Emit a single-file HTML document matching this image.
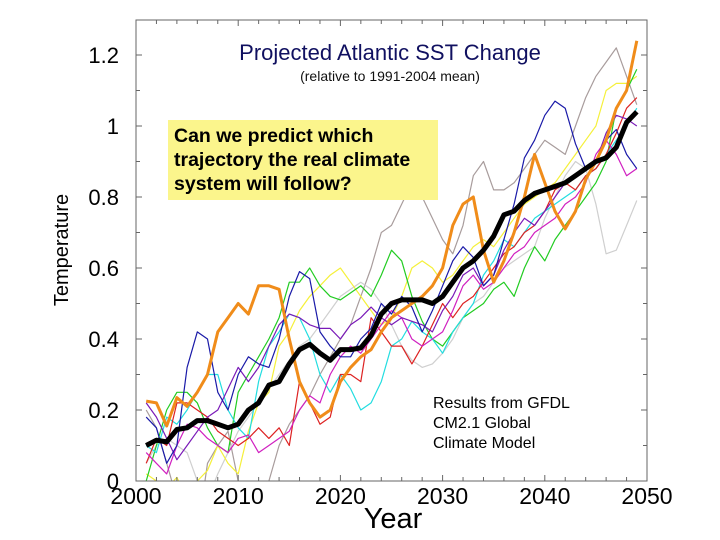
<!DOCTYPE html>
<html><head><meta charset="utf-8"><style>
body{margin:0;background:#fff;}
svg{display:block;font-family:"Liberation Sans",Arial,sans-serif;}
</style></head><body>
<svg id="chart" width="720" height="540" viewBox="0 0 720 540">
<rect x="0" y="0" width="720" height="540" fill="#fff"/>
<g id="marks"></g>
<rect x="136" y="20" width="511" height="461" fill="none" stroke="#666" stroke-width="1"/>
<g id="axes"></g>
<text x="390" y="60" text-anchor="middle" font-size="22" fill="#101060">Projected Atlantic SST Change</text>
<text x="390" y="81" text-anchor="middle" font-size="14" fill="#111">(relative to 1991-2004 mean)</text>
<rect x="168" y="120" width="270" height="80" fill="#fbf58c"/>
<text font-size="19.5" font-weight="bold" fill="#000"><tspan x="174" y="142">Can we predict which</tspan><tspan x="174" y="166">trajectory the real climate</tspan><tspan x="174" y="190">system will follow?</tspan></text>
<text font-size="16" fill="#000"><tspan x="433" y="408">Results from GFDL</tspan><tspan x="433" y="428">CM2.1 Global</tspan><tspan x="433" y="448">Climate Model</tspan></text>
<text x="393" y="528" text-anchor="middle" font-size="29" fill="#000">Year</text>
<text transform="translate(68,250) rotate(-90)" text-anchor="middle" font-size="20" fill="#000">Temperature</text>
</svg>
<script>
const years=[];for(let y=2001;y<=2049;y++)years.push(y);
const xTicks=[2000,2010,2020,2030,2040,2050];
const yTicks=[0,0.2,0.4,0.6,0.8,1,1.2];
const yTickLabels=["0","0.2","0.4","0.6","0.8","1","1.2"];
const ensembleMean=[.10,.115,.11,.145,.15,.17,.17,.16,.15,.16,.20,.22,.27,.28,.33,.37,.385,.36,.34,.37,.37,.375,.41,.47,.50,.51,.51,.51,.50,.52,.56,.60,.62,.65,.69,.75,.76,.79,.81,.82,.83,.84,.86,.88,.90,.91,.94,1.01,1.04];
const orangeRun=[.225,.22,.155,.235,.21,.25,.30,.42,.46,.50,.47,.55,.55,.54,.40,.28,.22,.18,.20,.28,.32,.35,.37,.42,.46,.48,.50,.52,.55,.60,.72,.78,.80,.65,.56,.62,.70,.80,.92,.84,.76,.71,.76,.85,.90,.96,1.05,1.10,1.24];
const blueRun=[.18,.15,.05,.10,.32,.42,.40,.25,.20,.30,.35,.33,.32,.40,.52,.59,.57,.42,.38,.35,.35,.40,.43,.50,.47,.52,.49,.42,.48,.55,.62,.66,.63,.55,.58,.68,.78,.91,.96,1.03,1.07,1.05,.95,.88,.90,.96,.99,.92,.88];
const greenRun=[.00,.10,.20,.25,.25,.22,.15,.10,.08,.25,.30,.35,.40,.46,.56,.56,.60,.55,.52,.51,.53,.55,.52,.58,.65,.62,.52,.45,.40,.38,.42,.46,.48,.50,.54,.56,.52,.60,.66,.62,.68,.72,.76,.80,.84,.90,1.05,1.10,1.16];
const purpleRun=[.22,.18,.12,.06,.10,.14,.18,.20,.26,.32,.28,.32,.38,.44,.47,.46,.44,.43,.43,.40,.44,.46,.49,.46,.44,.46,.45,.44,.42,.48,.52,.58,.60,.55,.58,.65,.70,.74,.72,.76,.80,.84,.86,.88,.90,.98,1.03,1.02,1.00];
const cyanRun=[.10,.08,.18,.16,.20,.25,.30,.30,.20,.15,.12,.28,.38,.42,.47,.46,.40,.30,.25,.30,.26,.20,.22,.28,.38,.40,.45,.42,.40,.36,.42,.46,.50,.58,.62,.68,.66,.70,.74,.76,.78,.80,.82,.86,.88,.92,.96,1.00,1.05];
const redRun=[.05,.12,.10,.22,.22,.20,.18,.14,.12,.10,.12,.15,.12,.15,.10,.28,.22,.16,.18,.30,.30,.28,.46,.42,.38,.38,.33,.38,.44,.50,.46,.50,.52,.56,.60,.64,.66,.70,.72,.76,.82,.84,.82,.86,.88,.92,.98,1.05,1.08];
const magentaRun=[.08,.05,.02,.10,.16,.15,.12,.10,.08,.12,.13,.08,.10,.12,.14,.20,.24,.22,.30,.35,.38,.36,.40,.44,.48,.46,.40,.38,.40,.42,.48,.55,.58,.54,.56,.60,.64,.66,.70,.72,.74,.78,.80,.84,.92,.96,.92,.86,.88];
const yellowRun=[.02,.00,-.02,.01,-.05,.00,.03,.10,.05,.02,.14,.22,.25,.38,.42,.48,.52,.55,.58,.60,.56,.52,.48,.44,.46,.52,.60,.62,.60,.56,.58,.62,.66,.68,.66,.70,.74,.78,.80,.82,.84,.88,.92,.96,1.00,1.10,1.12,1.12,1.14];
const grayRun=[.20,.15,.05,-.05,-.10,-.15,.05,.10,.14,.00,-.10,-.06,.00,.10,.16,.20,.24,.30,.35,.40,.44,.52,.60,.70,.72,.78,.84,.80,.74,.68,.64,.72,.86,.90,.82,.82,.84,.88,.92,.96,.94,.92,1.00,1.08,1.14,1.18,1.22,1.14,1.06];
const lightGrayRun=[.05,.10,.12,.10,.08,.00,-.05,.02,.08,.14,.18,.22,.26,.30,.34,.38,.40,.44,.48,.52,.54,.56,.54,.50,.44,.38,.34,.32,.33,.36,.40,.46,.50,.52,.56,.60,.62,.64,.66,.74,.80,.86,.90,.88,.78,.64,.65,.72,.79];
const series=[
 {name:"gray-run",vals:grayRun,color:"#a89c9c",w:1.2},
 {name:"light-gray-run",vals:lightGrayRun,color:"#cfcfcf",w:1.2},
 {name:"yellow-run",vals:yellowRun,color:"#f5f03a",w:1.2},
 {name:"green-run",vals:greenRun,color:"#22cc22",w:1.2},
 {name:"cyan-run",vals:cyanRun,color:"#22dde0",w:1.2},
 {name:"red-run",vals:redRun,color:"#dd2222",w:1.2},
 {name:"magenta-run",vals:magentaRun,color:"#d020c0",w:1.2},
 {name:"purple-run",vals:purpleRun,color:"#7a1ab8",w:1.2},
 {name:"blue-run",vals:blueRun,color:"#1a1aa8",w:1.2},
 {name:"orange-run",vals:orangeRun,color:"#f08c1a",w:3},
 {name:"ensemble-mean",vals:ensembleMean,color:"#000",w:5}
];
const X0=136,X1=647,Y0=481,Y1=20;
const xs=v=>X0+(v-2000)/50*(X1-X0);
const ys=v=>481-v/1.2*(481-55);
const NS="http://www.w3.org/2000/svg";
const marks=document.getElementById('marks');
const clip=document.createElementNS(NS,'clipPath');clip.setAttribute('id','pc');
const cr=document.createElementNS(NS,'rect');cr.setAttribute('x',X0);cr.setAttribute('y',Y1);cr.setAttribute('width',X1-X0);cr.setAttribute('height',Y0-Y1);
clip.appendChild(cr);marks.appendChild(clip);
const g=document.createElementNS(NS,'g');g.setAttribute('clip-path','url(#pc)');marks.appendChild(g);
series.forEach(s=>{
 const p=document.createElementNS(NS,'polyline');
 p.setAttribute('points',s.vals.map((v,i)=>xs(years[i]).toFixed(1)+','+ys(v).toFixed(1)).join(' '));
 p.setAttribute('fill','none');p.setAttribute('stroke',s.color);p.setAttribute('stroke-width',s.w);p.setAttribute('stroke-linejoin','round');
 
 
 g.appendChild(p);
});
const ax=document.getElementById('axes');
function ln(x1,y1,x2,y2){const l=document.createElementNS(NS,'line');l.setAttribute('x1',x1);l.setAttribute('y1',y1);l.setAttribute('x2',x2);l.setAttribute('y2',y2);l.setAttribute('stroke','#666');l.setAttribute('stroke-width','1');ax.appendChild(l);return l;}
for(let v=0;v<=1.2001;v+=0.1){const y=ys(v);const L=Math.abs(v*5-Math.round(v*5))<1e-6?6:4;ln(X0,y,X0+L,y);ln(X1,y,X1-L,y);}
for(let yr=2000;yr<=2050;yr+=2){const x=xs(yr);const L=yr%10===0?6:4;ln(x,Y0,x,Y0-L);ln(x,Y1,x,Y1+L);}
yTicks.forEach((v,i)=>{const t=document.createElementNS(NS,'text');t.setAttribute('x',119);t.setAttribute('y',ys(v)+8);t.setAttribute('text-anchor','end');t.setAttribute('font-size','22');t.textContent=yTickLabels[i];
 
 
 ax.appendChild(t);});
xTicks.forEach(v=>{const t=document.createElementNS(NS,'text');t.setAttribute('x',xs(v));t.setAttribute('y',504);t.setAttribute('text-anchor','middle');t.setAttribute('font-size','23');t.textContent=v;
 
 
 ax.appendChild(t);});
</script>
</body></html>
